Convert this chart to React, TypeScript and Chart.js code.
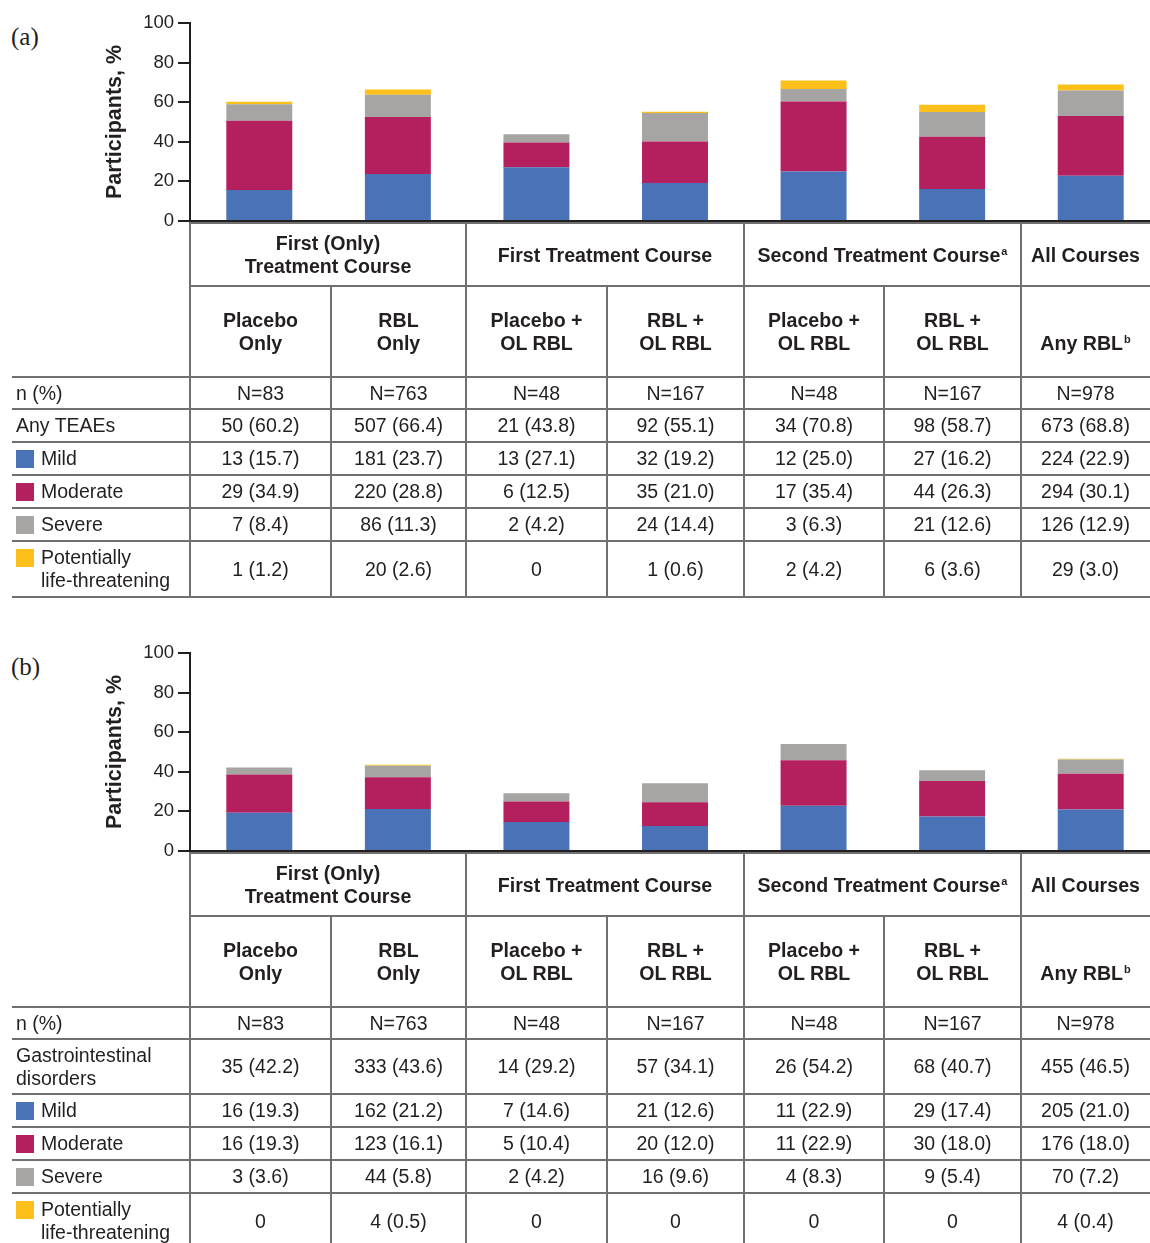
import React, { useEffect, useRef } from "react";
import { Chart, registerables } from "chart.js";

Chart.register(...registerables);

// ---------- data ----------
const armCategories = [
  "Placebo Only",
  "RBL Only",
  "Placebo + OL RBL (1st)",
  "RBL + OL RBL (1st)",
  "Placebo + OL RBL (2nd)",
  "RBL + OL RBL (2nd)",
  "Any RBL",
];
const armLabels = [
  "Placebo\nOnly",
  "RBL\nOnly",
  "Placebo +\nOL RBL",
  "RBL +\nOL RBL",
  "Placebo +\nOL RBL",
  "RBL +\nOL RBL",
  "\u00a0\nAny RBL",
];
const armSup = ["", "", "", "", "", "", "b"];
const courseGroups = [
  "First (Only)\nTreatment Course",
  "First Treatment Course",
  "Second Treatment Course",
  "All Courses",
];
const courseSup = ["", "", "a", ""];
const courseSpans = [2, 2, 2, 1];
const armN = [83, 763, 48, 167, 48, 167, 978];

const severityNames = ["Mild", "Moderate", "Severe", "Potentially\nlife-threatening"];
const severityColors = ["#4A72B6", "#B41F5E", "#A6A5A3", "#FDC01A"];

// Panel (a): any TEAEs
const aTotalLabel = "Any TEAEs";
const aTotalN = [50, 507, 21, 92, 34, 98, 673];
const aTotalPct = [60.2, 66.4, 43.8, 55.1, 70.8, 58.7, 68.8];
const aMildN = [13, 181, 13, 32, 12, 27, 224];
const aMildPct = [15.7, 23.7, 27.1, 19.2, 25.0, 16.2, 22.9];
const aModN = [29, 220, 6, 35, 17, 44, 294];
const aModPct = [34.9, 28.8, 12.5, 21.0, 35.4, 26.3, 30.1];
const aSevN = [7, 86, 2, 24, 3, 21, 126];
const aSevPct = [8.4, 11.3, 4.2, 14.4, 6.3, 12.6, 12.9];
const aLifeN = [1, 20, 0, 1, 2, 6, 29];
const aLifePct = [1.2, 2.6, 0, 0.6, 4.2, 3.6, 3.0];

// Panel (b): gastrointestinal disorders
const bTotalLabel = "Gastrointestinal\ndisorders";
const bTotalN = [35, 333, 14, 57, 26, 68, 455];
const bTotalPct = [42.2, 43.6, 29.2, 34.1, 54.2, 40.7, 46.5];
const bMildN = [16, 162, 7, 21, 11, 29, 205];
const bMildPct = [19.3, 21.2, 14.6, 12.6, 22.9, 17.4, 21.0];
const bModN = [16, 123, 5, 20, 11, 30, 176];
const bModPct = [19.3, 16.1, 10.4, 12.0, 22.9, 18.0, 18.0];
const bSevN = [3, 44, 2, 16, 4, 9, 70];
const bSevPct = [3.6, 5.8, 4.2, 9.6, 8.3, 5.4, 7.2];
const bLifeN = [0, 4, 0, 0, 0, 0, 4];
const bLifePct = [0, 0.5, 0, 0, 0, 0, 0.4];

const yTicks = [0, 20, 40, 60, 80, 100];

// ---------- styles ----------
const FONT = '"Liberation Sans", Arial, Helvetica, sans-serif';
const INK = "#231f20";
const RULE = "#707070";
const COLS = [12, 190, 331, 466, 607, 744, 884, 1021, 1150];

const fmt = (n: number, p: number) => (n === 0 ? "0" : `${n} (${p.toFixed(1)})`);

const lines = (s: string) =>
  s.split("\n").map((t, i, arr) => (
    <React.Fragment key={i}>
      {t}
      {i < arr.length - 1 ? <br /> : null}
    </React.Fragment>
  ));

const Sup = ({ t }: { t: string }) =>
  t ? (
    <span style={{ fontSize: 11, lineHeight: 0, position: "relative", top: -7, marginLeft: 1, verticalAlign: "baseline" }}>
      {t}
    </span>
  ) : null;

function BarChart({ pcts }: { pcts: number[][] }) {
  const ref = useRef<HTMLCanvasElement>(null);
  useEffect(() => {
    if (!ref.current) return;
    const chart = new Chart(ref.current, {
      type: "bar",
      data: {
        labels: armCategories,
        datasets: severityNames.map((name, i) => ({
          label: name.replace("\n", " "),
          data: pcts[i],
          backgroundColor: severityColors[i],
          borderWidth: 0,
          barPercentage: 0.476,
          categoryPercentage: 1,
        })),
      },
      options: {
        responsive: false,
        animation: false,
        devicePixelRatio: 1,
        layout: { padding: { left: 102, top: 23, right: 0, bottom: 19 } },
        plugins: { legend: { display: false }, tooltip: { enabled: false } },
        scales: {
          x: {
            stacked: true,
            ticks: { display: false },
            grid: { display: false, drawTicks: false },
            border: { display: true, color: INK, width: 2 },
            afterFit: (s: any) => {
              s.height = 0;
            },
          },
          y: {
            stacked: true,
            min: yTicks[0],
            max: yTicks[yTicks.length - 1],
            afterBuildTicks: (s: any) => {
              s.ticks = yTicks.map((v) => ({ value: v }));
            },
            ticks: { color: INK, font: { family: FONT, size: 18.5 }, padding: 4 },
            grid: { drawOnChartArea: false, drawTicks: true, tickLength: 12, color: INK, lineWidth: 2 },
            border: { display: true, color: INK, width: 2 },
            title: {
              display: true,
              text: "Participants, %",
              color: INK,
              font: { family: FONT, size: 21.5, weight: "bold" },
              padding: 0,
            },
            afterFit: (s: any) => {
              s.width = 88;
            },
          },
        },
      },
    } as any);
    return () => chart.destroy();
  }, []);
  return (
    <canvas
      ref={ref}
      width={1160}
      height={240}
      style={{ position: "absolute", left: 0, top: 0, width: 1160, height: 240 }}
    />
  );
}

function Square({ color }: { color: string }) {
  return (
    <span
      style={{
        display: "inline-block",
        width: 18,
        height: 18,
        background: color,
        marginTop: 2.5,
        marginRight: 7,
        flex: "0 0 auto",
      }}
    />
  );
}

type PanelProps = {
  top: number;
  tag: string;
  totalLabel: string;
  totalHeight: number;
  totalN: number[];
  totalPct: number[];
  sevN: number[][];
  sevPct: number[][];
};

function Panel({ top, tag, totalLabel, totalHeight, totalN, totalPct, sevN, sevPct }: PanelProps) {
  const rows = [222, 286, 377, 409];
  rows.push(rows[3] + totalHeight);
  rows.push(rows[4] + 33, rows[4] + 66, rows[4] + 99, rows[4] + 155);
  const last = rows[rows.length - 1];

  const hLines: [number, number, number][] = [
    [190, 1150, rows[0] + 1],
    [190, 1150, rows[1]],
  ];
  for (let i = 2; i < rows.length; i++) hLines.push([12, 1150, rows[i]]);
  const vLines: [number, number, number][] = [];
  [1, 3, 5, 7].forEach((c) => vLines.push([COLS[c], rows[0], last]));
  [2, 4, 6].forEach((c) => vLines.push([COLS[c], rows[1], last]));

  const cellBase: React.CSSProperties = {
    position: "absolute",
    display: "flex",
    alignItems: "center",
    justifyContent: "center",
    textAlign: "center",
    lineHeight: "23px",
  };
  const BOLD = 19.6;
  const REG = 19.5;

  const cells: React.ReactNode[] = [];
  // group headers
  let c = 1;
  courseGroups.forEach((g, i) => {
    const x0 = COLS[c];
    const x1 = COLS[c + courseSpans[i]];
    c += courseSpans[i];
    cells.push(
      <div
        key={`g${i}`}
        style={{ ...cellBase, left: x0, top: rows[0] + 1, width: x1 - x0, height: rows[1] - rows[0], fontWeight: 700, fontSize: BOLD }}
      >
        <div>
          {lines(g)}
          <Sup t={courseSup[i]} />
        </div>
      </div>
    );
  });
  // arm headers
  armLabels.forEach((a, i) => {
    cells.push(
      <div
        key={`a${i}`}
        style={{ ...cellBase, left: COLS[i + 1], top: rows[1], width: COLS[i + 2] - COLS[i + 1], height: rows[2] - rows[1], fontWeight: 700, fontSize: BOLD }}
      >
        <div>
          {lines(a)}
          <Sup t={armSup[i]} />
        </div>
      </div>
    );
  });

  const bodyRows: { label: string; color?: string; vals: string[] }[] = [
    { label: "n (%)", vals: armN.map((n) => `N=${n}`) },
    { label: totalLabel, vals: totalN.map((n, i) => fmt(n, totalPct[i])) },
    ...severityNames.map((s, k) => ({
      label: s,
      color: severityColors[k],
      vals: sevN[k].map((n, i) => fmt(n, sevPct[k][i])),
    })),
  ];
  bodyRows.forEach((r, ri) => {
    const y0 = rows[2 + ri];
    const y1 = rows[3 + ri];
    cells.push(
      <div
        key={`l${ri}`}
        style={{ ...cellBase, justifyContent: "flex-start", textAlign: "left", left: COLS[0] + 4, top: y0, width: COLS[1] - COLS[0] - 4, height: y1 - y0, fontSize: REG }}
      >
        <div style={{ display: "flex", alignItems: "flex-start" }}>
          {r.color ? <Square color={r.color} /> : null}
          <span>{lines(r.label)}</span>
        </div>
      </div>
    );
    r.vals.forEach((v, i) => {
      cells.push(
        <div
          key={`v${ri}_${i}`}
          style={{ ...cellBase, left: COLS[i + 1], top: y0, width: COLS[i + 2] - COLS[i + 1], height: y1 - y0, fontSize: REG }}
        >
          {v}
        </div>
      );
    });
  });

  return (
    <div style={{ position: "absolute", left: 0, top, width: 1150, height: 630 }}>
      <div
        style={{
          position: "absolute",
          left: 11,
          top: 24,
          fontFamily: '"Liberation Serif", "Times New Roman", serif',
          fontSize: 25,
          lineHeight: "25px",
          color: INK,
        }}
      >
        {tag}
      </div>
      <BarChart pcts={sevPct} />
      {hLines.map(([x0, x1, y], i) => (
        <div key={`h${i}`} style={{ position: "absolute", left: x0, top: y - 1, width: x1 - x0, height: 2, background: RULE }} />
      ))}
      {vLines.map(([x, y0, y1], i) => (
        <div key={`vl${i}`} style={{ position: "absolute", left: x - 1, top: y0, width: 2, height: y1 - y0 + 1, background: RULE }} />
      ))}
      {cells}
    </div>
  );
}

export default function App() {
  return (
    <div
      style={{
        position: "absolute",
        left: 0,
        top: 0,
        width: 1150,
        height: 1243,
        overflow: "hidden",
        background: "#fff",
        fontFamily: FONT,
        color: INK,
      }}
    >
      <Panel
        top={0}
        tag="(a)"
        totalLabel={aTotalLabel}
        totalHeight={33}
        totalN={aTotalN}
        totalPct={aTotalPct}
        sevN={[aMildN, aModN, aSevN, aLifeN]}
        sevPct={[aMildPct, aModPct, aSevPct, aLifePct]}
      />
      <Panel
        top={630}
        tag="(b)"
        totalLabel={bTotalLabel}
        totalHeight={55}
        totalN={bTotalN}
        totalPct={bTotalPct}
        sevN={[bMildN, bModN, bSevN, bLifeN]}
        sevPct={[bMildPct, bModPct, bSevPct, bLifePct]}
      />
    </div>
  );
}
